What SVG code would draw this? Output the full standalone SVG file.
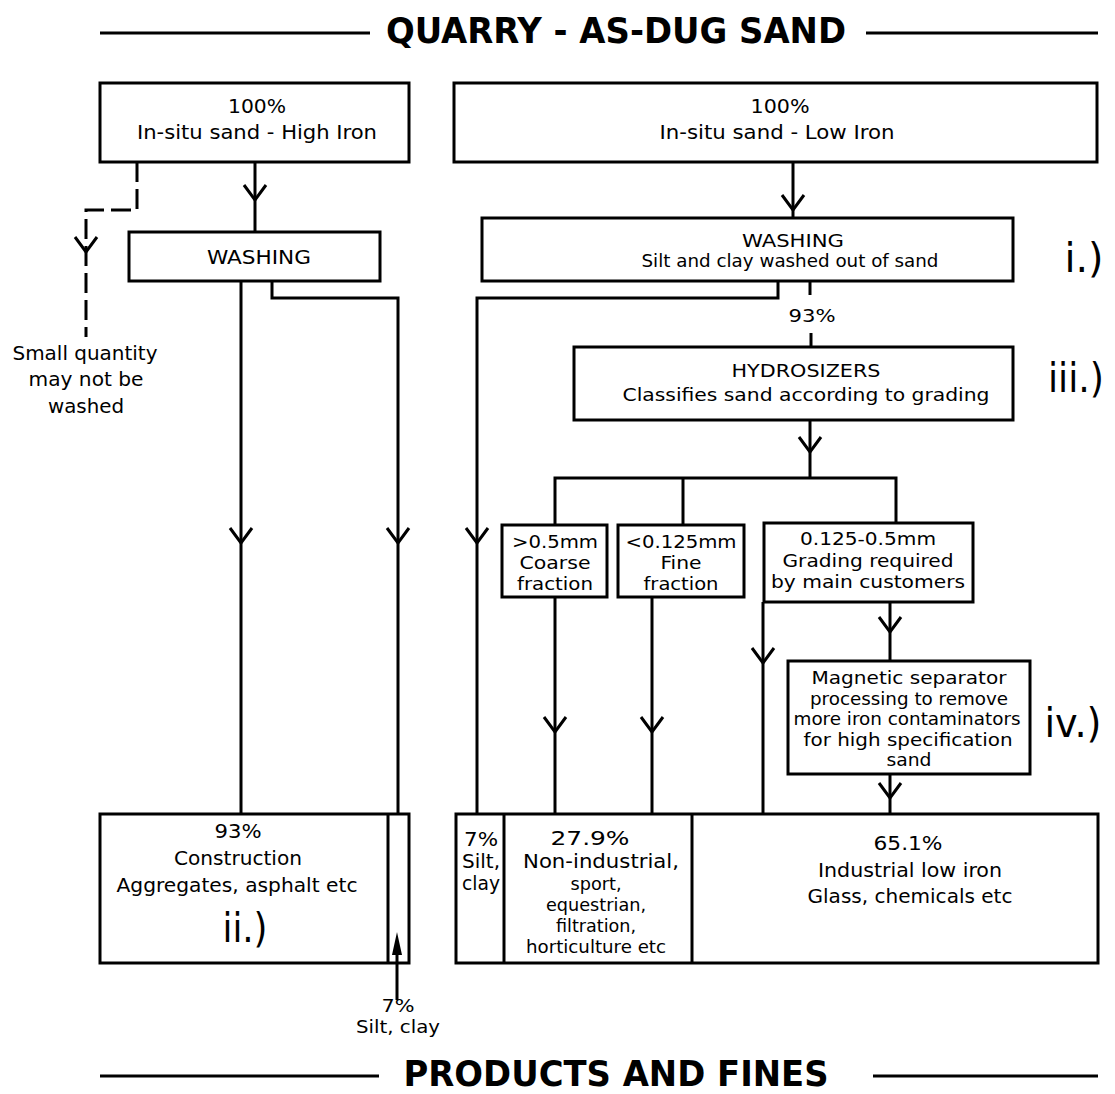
<svg xmlns="http://www.w3.org/2000/svg" xmlns:xlink="http://www.w3.org/1999/xlink" width="1115" height="1094" viewBox="0 0 1115 1094">
<style>
.box{fill:#fff;stroke:#000;stroke-width:3}
.ln{fill:none;stroke:#000;stroke-width:3}
.dash{fill:none;stroke:#000;stroke-width:3;stroke-dasharray:20 7}
text{font-family:"DejaVu Sans Condensed","DejaVu Sans",Verdana,sans-serif;font-size:19px;fill:#000;text-anchor:middle}
.m{font-size:18px}
.sm{font-size:17px}
.big{font-size:40px}
.title{font-family:"DejaVu Sans Condensed","DejaVu Sans",sans-serif;font-weight:bold;font-size:36px}
</style>
<defs>
<path id="v" d="M-11,-15 L0,0 L11,-15" fill="none" stroke="#000" stroke-width="3"/>
</defs>
<rect width="1115" height="1094" fill="#fff"/>

<g id="title-top">
<line class="ln" x1="100" y1="33" x2="370" y2="33"/>
<line class="ln" x1="866" y1="33" x2="1098" y2="33"/>
<text class="title" x="616" y="43" textLength="460" lengthAdjust="spacingAndGlyphs">QUARRY - AS-DUG SAND</text>
</g>
<g id="title-bottom">
<line class="ln" x1="100" y1="1076" x2="379" y2="1076"/>
<line class="ln" x1="873" y1="1076" x2="1098" y2="1076"/>
<text class="title" x="616" y="1086" font-size="33" textLength="425" lengthAdjust="spacingAndGlyphs">PRODUCTS AND FINES</text>
</g>

<g id="connectors">
<!-- left column -->
<line class="ln" x1="255" y1="162" x2="255" y2="232"/>
<use href="#v" x="255" y="200"/>
<path class="dash" d="M137,162 V210 H86 V337"/>
<use href="#v" x="86" y="252"/>
<line class="ln" x1="241" y1="281" x2="241" y2="814"/>
<use href="#v" x="241" y="543"/>
<path class="ln" d="M272,281 V298 H398 V814"/>
<use href="#v" x="398" y="543"/>
<!-- right column -->
<line class="ln" x1="793" y1="162" x2="793" y2="218"/>
<use href="#v" x="793" y="210"/>
<path class="ln" d="M778,281 V298 H477 V813"/>
<use href="#v" x="477" y="543"/>
<line class="ln" x1="810" y1="281" x2="810" y2="295"/>
<line class="ln" x1="811" y1="333" x2="811" y2="347"/>
<line class="ln" x1="810" y1="420" x2="810" y2="478"/>
<use href="#v" x="810" y="452"/>
<path class="ln" d="M555,525 V478 H896 V523"/>
<line class="ln" x1="683" y1="478" x2="683" y2="525"/>
<line class="ln" x1="555" y1="597" x2="555" y2="813"/>
<use href="#v" x="555" y="732"/>
<line class="ln" x1="652" y1="597" x2="652" y2="813"/>
<use href="#v" x="652" y="732"/>
<line class="ln" x1="763" y1="602" x2="763" y2="813"/>
<use href="#v" x="763" y="663"/>
<line class="ln" x1="890" y1="602" x2="890" y2="661"/>
<use href="#v" x="890" y="632"/>
<line class="ln" x1="890" y1="774" x2="890" y2="813"/>
<use href="#v" x="890" y="798"/>
</g>

<g id="n-high-iron">
<rect class="box" x="100" y="83" width="309" height="79"/>
<text x="257" y="113" textLength="58" lengthAdjust="spacingAndGlyphs">100%</text>
<text x="257" y="139" textLength="240" lengthAdjust="spacingAndGlyphs">In-situ sand - High Iron</text>
</g>
<g id="n-low-iron">
<rect class="box" x="454" y="83" width="643" height="79"/>
<text x="780" y="113" textLength="59" lengthAdjust="spacingAndGlyphs">100%</text>
<text x="777" y="139" textLength="235" lengthAdjust="spacingAndGlyphs">In-situ sand - Low Iron</text>
</g>
<g id="n-wash-left">
<rect class="box" x="129" y="232" width="251" height="49"/>
<text x="259" y="264" textLength="104" lengthAdjust="spacingAndGlyphs">WASHING</text>
</g>
<g id="n-not-washed">
<text x="85" y="360" textLength="145" lengthAdjust="spacingAndGlyphs">Small quantity</text>
<text x="86" y="386" textLength="115" lengthAdjust="spacingAndGlyphs">may not be</text>
<text x="86" y="413" textLength="76" lengthAdjust="spacingAndGlyphs">washed</text>
</g>
<g id="n-wash-right">
<rect class="box" x="482" y="218" width="531" height="63"/>
<text class="m" x="793" y="247" textLength="102" lengthAdjust="spacingAndGlyphs">WASHING</text>
<text class="sm" x="790" y="267" textLength="297" lengthAdjust="spacingAndGlyphs">Silt and clay washed out of sand</text>
</g>
<g id="label-i"><text class="big" x="1084" y="272" textLength="39" lengthAdjust="spacingAndGlyphs">i.)</text></g>
<g id="label-93"><text class="m" x="812" y="322" textLength="47" lengthAdjust="spacingAndGlyphs">93%</text></g>
<g id="n-hydro">
<rect class="box" x="574" y="347" width="439" height="73"/>
<text class="m" x="806" y="377" textLength="149" lengthAdjust="spacingAndGlyphs">HYDROSIZERS</text>
<text class="m" x="806" y="401" textLength="367" lengthAdjust="spacingAndGlyphs">Classifies sand according to grading</text>
</g>
<g id="label-iii"><text class="big" x="1076" y="392" textLength="56" lengthAdjust="spacingAndGlyphs">iii.)</text></g>
<g id="n-coarse">
<rect class="box" x="502" y="525" width="105" height="72"/>
<text class="sm" x="555" y="548" textLength="86" lengthAdjust="spacingAndGlyphs">&gt;0.5mm</text>
<text class="sm" x="555" y="569" textLength="71" lengthAdjust="spacingAndGlyphs">Coarse</text>
<text class="sm" x="555" y="590" textLength="76" lengthAdjust="spacingAndGlyphs">fraction</text>
</g>
<g id="n-fine">
<rect class="box" x="618" y="525" width="126" height="72"/>
<text class="sm" x="681" y="548" textLength="111" lengthAdjust="spacingAndGlyphs">&lt;0.125mm</text>
<text class="sm" x="681" y="569" textLength="41" lengthAdjust="spacingAndGlyphs">Fine</text>
<text class="sm" x="681" y="590" textLength="75" lengthAdjust="spacingAndGlyphs">fraction</text>
</g>
<g id="n-main-grade">
<rect class="box" x="764" y="523" width="209" height="79"/>
<text class="sm" x="868" y="545" textLength="136" lengthAdjust="spacingAndGlyphs">0.125-0.5mm</text>
<text class="sm" x="868" y="567" textLength="171" lengthAdjust="spacingAndGlyphs">Grading required</text>
<text class="sm" x="868" y="588" textLength="194" lengthAdjust="spacingAndGlyphs">by main customers</text>
</g>
<g id="n-magnetic">
<rect class="box" x="788" y="661" width="242" height="113"/>
<text class="sm" x="909" y="684" textLength="195" lengthAdjust="spacingAndGlyphs">Magnetic separator</text>
<text class="sm" x="909" y="705" textLength="198" lengthAdjust="spacingAndGlyphs">processing to remove</text>
<text class="sm" x="907" y="725" textLength="227" lengthAdjust="spacingAndGlyphs">more iron contaminators</text>
<text class="sm" x="908" y="746" textLength="209" lengthAdjust="spacingAndGlyphs">for high specification</text>
<text class="sm" x="909" y="766" textLength="45" lengthAdjust="spacingAndGlyphs">sand</text>
</g>
<g id="label-iv"><text class="big" x="1073" y="737" textLength="57" lengthAdjust="spacingAndGlyphs">iv.)</text></g>

<g id="n-construction">
<rect class="box" x="100" y="814" width="309" height="149"/>
<line class="ln" x1="388" y1="814" x2="388" y2="963"/>
<text x="238" y="838" textLength="47" lengthAdjust="spacingAndGlyphs">93%</text>
<text x="238" y="865" textLength="128" lengthAdjust="spacingAndGlyphs">Construction</text>
<text x="237" y="892" textLength="241" lengthAdjust="spacingAndGlyphs">Aggregates, asphalt etc</text>
<text class="big" x="245" y="942" textLength="45" lengthAdjust="spacingAndGlyphs">ii.)</text>
</g>
<g id="n-silt-left">
<line class="ln" x1="397" y1="1000" x2="397" y2="950"/>
<polygon points="397,932 392,955 402,955" fill="#000"/>
<text class="sm" x="398" y="1012" textLength="33" lengthAdjust="spacingAndGlyphs">7%</text>
<text class="sm" x="398" y="1033" textLength="84" lengthAdjust="spacingAndGlyphs">Silt, clay</text>
</g>
<g id="n-products-right">
<rect class="box" x="456" y="814" width="642" height="149"/>
<line class="ln" x1="504" y1="814" x2="504" y2="963"/>
<line class="ln" x1="692" y1="814" x2="692" y2="963"/>
<text x="481" y="846" textLength="34" lengthAdjust="spacingAndGlyphs">7%</text>
<text x="481" y="868" textLength="38" lengthAdjust="spacingAndGlyphs">Silt,</text>
<text x="481" y="890" textLength="38" lengthAdjust="spacingAndGlyphs">clay</text>
<text x="590" y="845" textLength="79" lengthAdjust="spacingAndGlyphs">27.9%</text>
<text x="601" y="868" textLength="156" lengthAdjust="spacingAndGlyphs">Non-industrial,</text>
<text class="sm" x="596" y="890" textLength="51" lengthAdjust="spacingAndGlyphs">sport,</text>
<text class="sm" x="596" y="911" textLength="100" lengthAdjust="spacingAndGlyphs">equestrian,</text>
<text class="sm" x="596" y="932" textLength="80" lengthAdjust="spacingAndGlyphs">filtration,</text>
<text class="sm" x="596" y="953" textLength="140" lengthAdjust="spacingAndGlyphs">horticulture etc</text>
<text x="908" y="850" textLength="69" lengthAdjust="spacingAndGlyphs">65.1%</text>
<text x="910" y="877" textLength="184" lengthAdjust="spacingAndGlyphs">Industrial low iron</text>
<text x="910" y="903" textLength="205" lengthAdjust="spacingAndGlyphs">Glass, chemicals etc</text>
</g>
</svg>
